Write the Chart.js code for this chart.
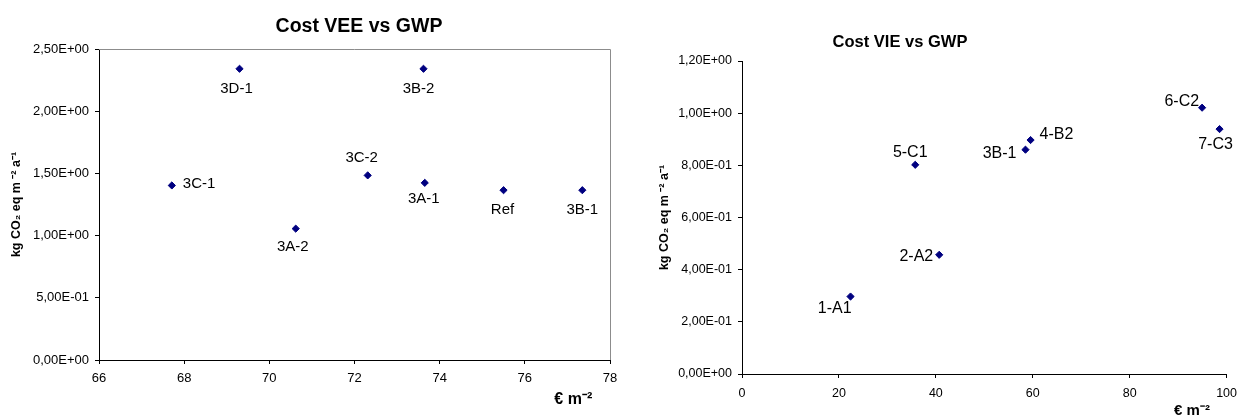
<!DOCTYPE html>
<html>
<head>
<meta charset="utf-8">
<script src="https://cdn.jsdelivr.net/npm/chart.js@4"></script>
<style>
  html, body { margin: 0; padding: 0; background: #fff; }
  body { width: 1245px; height: 420px; position: relative; overflow: hidden; }
  canvas { position: absolute; top: 0; }
  #veeChart { left: 0; }
  #vieChart { left: 640px; }
</style>
</head>
<body>
<canvas id="veeChart" width="625" height="420"></canvas>
<canvas id="vieChart" width="605" height="420"></canvas>
<script>
// data
const veeLabels = ['3C-1', '3D-1', '3A-2', '3C-2', '3B-2', '3A-1', 'Ref', '3B-1'];
const veeCost = [67.71, 69.30, 70.62, 72.31, 73.62, 73.65, 75.50, 77.35];
const veeGwp = [1.403, 2.341, 1.056, 1.484, 2.341, 1.424, 1.365, 1.365];

const vieLabels = ['1-A1', '5-C1', '2-A2', '3B-1', '4-B2', '6-C2', '7-C3'];
const vieCost = [22.4, 35.75, 40.7, 58.5, 59.55, 94.95, 98.55];
const vieGwp = [0.297, 0.802, 0.457, 0.860, 0.897, 1.021, 0.939];

const veeXTicks = { min: 66, max: 78, step: 2 };
const veeYTicks = { min: 0, max: 2.5, step: 0.5 };
const vieXTicks = { min: 0, max: 100, step: 20 };
const vieYTicks = { min: 0, max: 1.2, step: 0.2 };

// label placement next to each point: [dx, dy, align]
const veeLabelPos = [[11, -2, 'left'], [-3, 20, 'center'], [-3, 18, 'center'], [-6, -18, 'center'],
    [-5, 20, 'center'], [-1, 16, 'center'], [-1, 20, 'center'], [0, 20, 'center']];
const vieLabelPos = [[1, 12, 'right'], [-5, -12, 'center'], [-6, 2, 'right'], [-9, 4, 'right'],
    [9, -5, 'left'], [-3, -6, 'right'], [-4, 16, 'center']];

const FONT = '"Liberation Sans", Arial, sans-serif';
Chart.defaults.font.family = FONT;
Chart.defaults.color = '#000';

// 2,50E+00 style
function sciComma(v) {
    const parts = Number(v).toExponential(2).split('e');
    let exp = parseInt(parts[1], 10);
    const sign = exp < 0 ? '-' : '+';
    exp = Math.abs(exp);
    return parts[0].replace('.', ',') + 'E' + sign + (exp < 10 ? '0' + exp : exp);
}

const pointLabels = {
    id: 'pointLabels',
    afterDatasetsDraw(chart, args, opts) {
        const ctx = chart.ctx;
        const meta = chart.getDatasetMeta(0);
        ctx.save();
        ctx.font = opts.size + 'px ' + FONT;
        ctx.fillStyle = '#000';
        ctx.textBaseline = 'middle';
        meta.data.forEach((el, i) => {
            const p = opts.pos[i];
            ctx.textAlign = p[2];
            ctx.fillText(opts.labels[i], el.x + p[0], el.y + p[1]);
        });
        ctx.restore();
    }
};

const chartTitle = {
    id: 'chartTitle',
    afterDraw(chart, args, opts) {
        const ctx = chart.ctx;
        ctx.save();
        ctx.font = 'bold ' + opts.size + 'px ' + FONT;
        ctx.fillStyle = '#000';
        ctx.textAlign = 'center';
        ctx.textBaseline = 'middle';
        ctx.fillText(opts.text, opts.x, opts.y);
        ctx.restore();
    }
};

const frameLines = {
    id: 'frameLines',
    beforeDatasetsDraw(chart, args, opts) {
        if (!opts.show) return;
        const a = chart.chartArea;
        const ctx = chart.ctx;
        ctx.save();
        ctx.strokeStyle = '#8c8c8c';
        ctx.lineWidth = 1;
        ctx.beginPath();
        ctx.moveTo(a.left, a.top + 0.5);
        ctx.lineTo(a.right + 0.5, a.top + 0.5);
        ctx.lineTo(a.right + 0.5, a.bottom);
        ctx.stroke();
        ctx.restore();
    }
};

function makeScatter(id, cfg) {
    const points = cfg.x.map((x, i) => ({ x: x, y: cfg.y[i] }));
    return new Chart(document.getElementById(id), {
        type: 'scatter',
        data: {
            datasets: [{
                data: points,
                pointStyle: 'rectRot',
                pointRadius: 3.6,
                borderWidth: 1,
                backgroundColor: '#000080',
                borderColor: '#000080'
            }]
        },
        options: {
            responsive: false,
            animation: false,
            events: [],
            layout: { padding: cfg.padding },
            plugins: {
                legend: { display: false },
                tooltip: { enabled: false },
                pointLabels: { labels: cfg.labels, pos: cfg.labelPos, size: cfg.labelSize },
                chartTitle: { text: cfg.title, x: cfg.titleX, y: cfg.titleY, size: cfg.titleSize },
                frameLines: { show: cfg.frame }
            },
            scales: {
                x: {
                    type: 'linear',
                    min: cfg.xt.min, max: cfg.xt.max,
                    afterFit: s => { s.height = cfg.xHeight; },
                    ticks: { stepSize: cfg.xt.step, padding: cfg.xTickPad, font: { size: cfg.tickSize }, color: '#000' },
                    grid: { display: true, drawOnChartArea: false, drawTicks: true, tickLength: 4, color: '#000' },
                    border: { display: true, color: '#000', width: 1 },
                    title: {
                        display: true, text: '€ m⁻²    ', align: 'end',
                        font: { size: cfg.xTitleSize, weight: 'bold' },
                        padding: { top: 0, bottom: cfg.xTitlePad }, color: '#000'
                    }
                },
                y: {
                    type: 'linear',
                    min: cfg.yt.min, max: cfg.yt.max,
                    afterFit: s => { s.width = cfg.yWidth; },
                    ticks: { stepSize: cfg.yt.step, padding: 6, font: { size: cfg.tickSize }, color: '#000', callback: v => sciComma(v) },
                    grid: { display: true, drawOnChartArea: false, drawTicks: true, tickLength: 4, color: '#000' },
                    border: { display: true, color: '#000', width: 1 },
                    title: {
                        display: true, text: 'kg CO₂ eq m ⁻² a⁻¹',
                        font: { size: 12.5, weight: 'bold' },
                        padding: { top: 1, bottom: 0 }, color: '#000'
                    }
                }
            }
        },
        plugins: [pointLabels, chartTitle, frameLines]
    });
}

makeScatter('veeChart', {
    x: veeCost, y: veeGwp, labels: veeLabels, labelPos: veeLabelPos, labelSize: 15,
    xt: veeXTicks, yt: veeYTicks,
    title: 'Cost VEE vs GWP', titleX: 359, titleY: 27, titleSize: 19.5,
    padding: { left: 8, right: 15, top: 49, bottom: 0 },
    yWidth: 91, xHeight: 60, xTickPad: 7, tickSize: 13,
    xTitleSize: 16, xTitlePad: 11, frame: true
});

makeScatter('vieChart', {
    x: vieCost, y: vieGwp, labels: vieLabels, labelPos: vieLabelPos, labelSize: 16,
    xt: vieXTicks, yt: vieYTicks,
    title: 'Cost VIE vs GWP', titleX: 260, titleY: 42, titleSize: 16.5,
    padding: { left: 16, right: 10, top: 61, bottom: 0 },
    yWidth: 86, xHeight: 46, xTickPad: 8, tickSize: 12.5,
    xTitleSize: 15, xTitlePad: 0, frame: false
});
</script>
</body>
</html>
